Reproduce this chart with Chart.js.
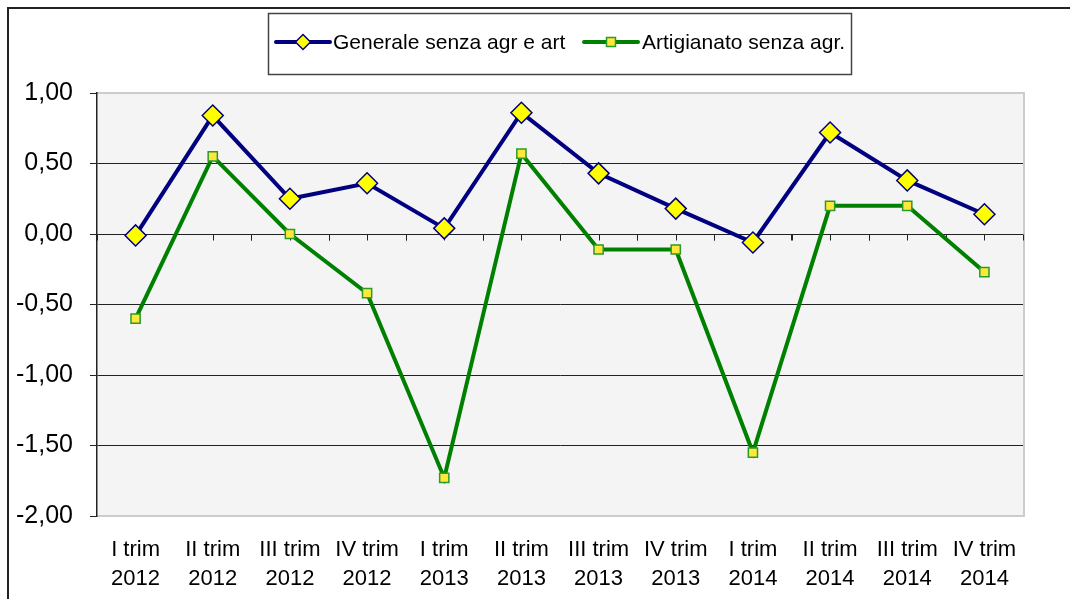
<!DOCTYPE html>
<html>
<head>
<meta charset="utf-8">
<script src="https://cdn.jsdelivr.net/npm/chart.js@4"></script>
<style>
  body { margin: 0; background: #fff; }
  #wrap { position: relative; width: 1070px; height: 599px; overflow: hidden; }
  #frame { position: absolute; left: 7px; top: 7px; right: -10px; bottom: -10px;
           border-top: 2px solid #222; border-left: 2px solid #222; pointer-events: none; }
</style>
</head>
<body>
<div id="wrap">
  <canvas id="chart" width="1070" height="599"></canvas>
  <div id="frame"></div>
</div>
<script>
// === Data ===
const categories = [
  ["I trim", "2012"], ["II trim", "2012"], ["III trim", "2012"], ["IV trim", "2012"],
  ["I trim", "2013"], ["II trim", "2013"], ["III trim", "2013"], ["IV trim", "2013"],
  ["I trim", "2014"], ["II trim", "2014"], ["III trim", "2014"], ["IV trim", "2014"]
];
const generale = [-0.01, 0.84, 0.25, 0.36, 0.04, 0.86, 0.43, 0.18, -0.06, 0.72, 0.38, 0.14];
const artigianato = [-0.60, 0.55, 0.00, -0.42, -1.73, 0.57, -0.11, -0.11, -1.55, 0.20, 0.20, -0.27];
const yTicks = [-2, -1.5, -1, -0.5, 0, 0.5, 1];
const seriesNames = ["Generale senza agr e art", "Artigianato senza agr."];

const FONT = "'Liberation Sans', Arial, sans-serif";

// === Plot background, frame and zero-line ticks ===
const plotDeco = {
  id: "plotDeco",
  beforeDraw(chart) {
    const { ctx, chartArea: a } = chart;
    ctx.save();
    ctx.fillStyle = "#f4f4f4";
    ctx.fillRect(a.left, a.top, a.right - a.left, a.bottom - a.top);
    ctx.strokeStyle = "#cccccc";
    ctx.lineWidth = 2;
    ctx.beginPath();
    ctx.moveTo(a.left, a.top);
    ctx.lineTo(a.right + 1, a.top);
    ctx.lineTo(a.right + 1, a.bottom);
    ctx.lineTo(a.left, a.bottom);
    ctx.stroke();
    ctx.restore();
  },
  beforeDatasetsDraw(chart) {
    const { ctx, scales } = chart;
    const x = scales.x, y0 = Math.round(scales.y.getPixelForValue(0)) + 0.5;
    const half = (x.getPixelForValue(1) - x.getPixelForValue(0)) / 2;
    ctx.save();
    ctx.strokeStyle = "#222";
    ctx.lineWidth = 1;
    ctx.beginPath();
    categories.forEach((c, i) => {
      const cx = x.getPixelForValue(i);
      [cx - half, cx, cx + half].forEach((px) => {
        const p = Math.round(px) + 0.5;
        ctx.moveTo(p, y0);
        ctx.lineTo(p, y0 + 6);
      });
    });
    ctx.stroke();
    ctx.restore();
  }
};

// === Boxed legend ===
const boxLegend = {
  id: "boxLegend",
  afterDraw(chart) {
    const { ctx } = chart;
    ctx.save();
    ctx.fillStyle = "#fff";
    ctx.fillRect(268, 13, 583, 61);
    ctx.strokeStyle = "#444";
    ctx.lineWidth = 1.5;
    ctx.strokeRect(268.5, 13.5, 583, 61);
    const items = [
      { x: 276, tx: 333, ds: chart.data.datasets[0] },
      { x: 584, tx: 642, ds: chart.data.datasets[1] }
    ];
    const y = 42;
    items.forEach((it) => {
      const cx = it.x + 27;
      ctx.strokeStyle = it.ds.borderColor;
      ctx.lineWidth = 4;
      ctx.lineCap = "round";
      ctx.beginPath();
      ctx.moveTo(it.x, y);
      ctx.lineTo(it.x + 54, y);
      ctx.stroke();
      ctx.fillStyle = it.ds.pointBackgroundColor;
      ctx.strokeStyle = it.ds.pointBorderColor;
      ctx.lineWidth = 1.5;
      ctx.beginPath();
      if (it.ds.pointStyle === "rectRot") {
        const r = 7.5;
        ctx.moveTo(cx, y - r); ctx.lineTo(cx + r, y); ctx.lineTo(cx, y + r); ctx.lineTo(cx - r, y); ctx.closePath();
      } else {
        ctx.rect(cx - 4.5, y - 4.5, 9, 9);
      }
      ctx.fill();
      ctx.stroke();
      ctx.fillStyle = "#000";
      ctx.font = "21px " + FONT;
      ctx.textBaseline = "middle";
      ctx.fillText(it.ds.label, it.tx, y + 1);
    });
    ctx.restore();
  }
};

// === Chart ===
const ctx = document.getElementById("chart").getContext("2d");
new Chart(ctx, {
  type: "line",
  data: {
    labels: categories,
    datasets: [
      {
        label: seriesNames[0],
        data: generale,
        borderColor: "#000080",
        borderWidth: 4,
        pointStyle: "rectRot",
        pointRadius: 10.5,
        pointBackgroundColor: "#ffff00",
        pointBorderColor: "#000080",
        pointBorderWidth: 1.5,
        tension: 0
      },
      {
        label: seriesNames[1],
        data: artigianato,
        borderColor: "#008000",
        borderWidth: 4,
        pointStyle: "rect",
        pointRadius: 6.5,
        pointBackgroundColor: "#ffe83a",
        pointBorderColor: "#2a9a2a",
        pointBorderWidth: 1.5,
        tension: 0
      }
    ]
  },
  options: {
    responsive: false,
    animation: false,
    layout: { padding: { top: 93, right: 47, left: 0, bottom: 0 } },
    plugins: {
      legend: { display: false },
      tooltip: { enabled: false }
    },
    scales: {
      x: {
        offset: true,
        grid: { display: false, drawTicks: false },
        border: { display: false },
        ticks: {
          color: "#000",
          font: { family: FONT, size: 22, lineHeight: 1.32 },
          padding: 19,
          maxRotation: 0,
          autoSkip: false
        },
        afterFit: (s) => { s.height = 83; }
      },
      y: {
        min: -2,
        max: 1,
        afterBuildTicks: (s) => { s.ticks = yTicks.map((v) => ({ value: v })); },
        grid: {
          color: (c) => (c.tick && (c.tick.value === 1 || c.tick.value === -2) ? "#cccccc" : "#222"),
          lineWidth: 1,
          tickLength: 7,
          tickColor: "#222"
        },
        border: { display: true, color: "#222", width: 1.5 },
        ticks: {
          color: "#000",
          padding: 17,
          font: { family: FONT, size: 25 },
          callback: (v) => Number(v).toFixed(2).replace(".", ",")
        },
        afterFit: (s) => { s.width = 97; }
      }
    }
  },
  plugins: [plotDeco, boxLegend]
});
</script>
</body>
</html>
